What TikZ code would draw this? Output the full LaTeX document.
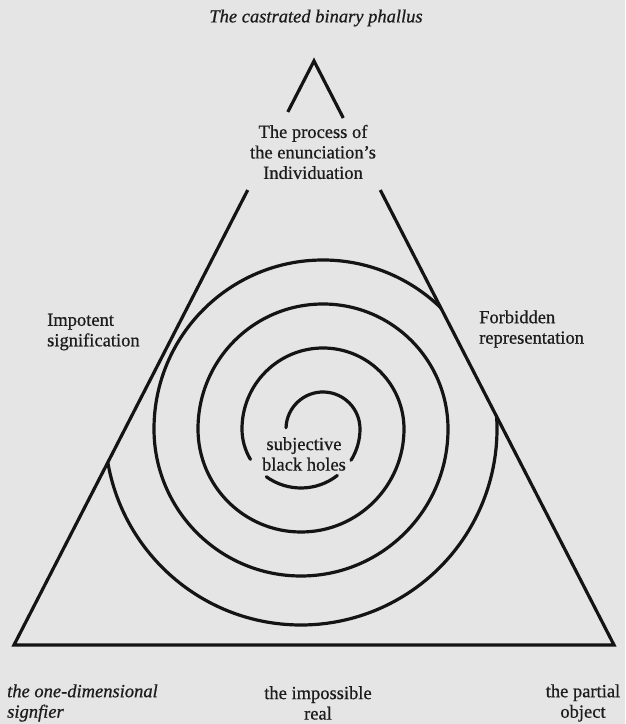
\documentclass[tikz,border=0pt]{standalone}
\usepackage{fontspec}
\setmainfont{Liberation Serif}[FakeBold=0.7]
\usetikzlibrary{calc}
\definecolor{paper}{RGB}{229,229,229}
\definecolor{ink}{RGB}{20,20,20}
\definecolor{txt}{RGB}{28,28,28}
\begin{document}
\begin{tikzpicture}[x=1pt,y=1pt,
  tri/.style={draw=ink,line width=3.2pt,line join=miter,line cap=butt},
  sp/.style={draw=ink,line width=3.2pt,line cap=round},
  lbl/.style={text=txt,inner sep=0pt,font=\fontsize{18.5}{20.5}\selectfont},
  ilbl/.style={lbl,font=\fontsize{18.5}{20.5}\selectfont\itshape}]
\fill[paper] (0,0) rectangle (625,724);
\useasboundingbox (0,0) rectangle (625,724);
% triangle vertices
\coordinate (BL) at (14,79);
\coordinate (BR) at (614,79);
\coordinate (A) at (314,663);
\coordinate (L1) at ($(BL)!0.779!(A)$);
\coordinate (R1) at ($(BR)!0.779!(A)$);
\coordinate (L2) at ($(BL)!0.9127!(A)$);
\coordinate (R2) at ($(BR)!0.9024!(A)$);
\draw[tri] (L1) -- (BL) -- (BR) -- (R1);
\draw[tri] (L2) -- (A) -- (R2);
% spiral centres
\coordinate (cT) at (323,295);
\coordinate (cB) at (301,295);
\begin{scope}
\clip (BL) -- (BR) -- (A) -- cycle;
\draw[sp] ($(cT)+(178:37)$) arc[start angle=178,end angle=0,radius=37]
   arc[start angle=0,end angle=-32,radius=59];
\draw[sp] ($(cB)+(-52:59)$) arc[start angle=-52,end angle=-126,radius=59];
\draw[sp] ($(cB)+(-149:59)$) arc[start angle=-149,end angle=-180,radius=59]
   arc[start angle=180,end angle=0,radius=81]
   arc[start angle=0,end angle=-180,radius=103]
   arc[start angle=180,end angle=0,radius=125]
   arc[start angle=0,end angle=-180,radius=147]
   arc[start angle=180,end angle=20,radius=169];
\draw[sp] ($(cB)+(180:196)$) arc[start angle=180,end angle=370,radius=196];
\end{scope}
% labels
\node[ilbl] (title) at (316,706) {The castrated binary phallus};
\node[lbl,align=center] (process) at (313,572) {The process of\\the enunciation’s\\Individuation};
\node[lbl,align=left,anchor=west] (impotent) at (47,392) {Impotent\\signification};
\node[lbl,align=left,anchor=west] (forbidden) at (479,395) {Forbidden\\representation};
\node[lbl,align=center] (holes) at (304,270) {subjective\\black holes};
\node[ilbl,align=left,anchor=west] (onedim) at (7,21) {the one-dimensional\\signfier};
\node[lbl,align=center] (impossible) at (318,21) {the impossible\\real};
\node[lbl,align=center] (partial) at (583,21) {the partial\\object};
\end{tikzpicture}
\end{document}
